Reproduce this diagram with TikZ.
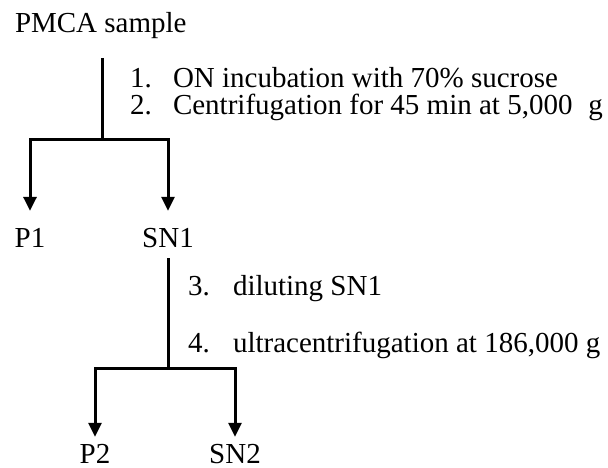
\documentclass[tikz,border=0pt]{standalone}
\usepackage{fontspec}
\setmainfont{Liberation Serif}
\usetikzlibrary{arrows.meta}
\begin{document}
\begin{tikzpicture}[x=1pt,y=-1pt,
  every node/.style={inner sep=0pt,outer sep=0pt,font=\fontsize{29}{34}\selectfont},
  lbl/.style={anchor=base},
  txt/.style={anchor=base west},
  link/.style={line width=3pt},
  arr/.style={line width=3pt,-{Triangle[width=13pt,length=14pt]}}]
\useasboundingbox (0,0) rectangle (608,468);

% samples and fractions
\node[txt] (pmca) at (15,33) {PMCA sample};
\node[lbl] (p1)  at (30,247)  {P1};
\node[lbl] (sn1) at (168,247) {SN1};
\node[lbl] (p2)  at (95,463)  {P2};
\node[lbl] (sn2) at (235,463) {SN2};

% protocol steps
\node[txt] (n1) at (130,88)  {1.};
\node[txt] (t1) at (173,88)  {ON incubation with 70\% sucrose};
\node[txt] (n2) at (130,115) {2.};
\node[txt] (t2) at (173,115) {Centrifugation for 45 min at 5,000\hspace{0.3em} g};
\node[txt] (n3) at (188,295) {3.};
\node[txt] (t3) at (233,295) {diluting SN1};
\node[txt] (n4) at (188,352) {4.};
\node[txt] (t4) at (233,352) {ultracentrifugation at 186,000 g};

% first separation
\coordinate (s1) at (102,58);
\coordinate (j1) at (102,140);
\draw[link] (s1) -- (j1);
\draw[arr] (j1) -| ([yshift=17pt]p1.north);
\draw[arr] (j1) -| ([yshift=17pt]sn1.north);

% second separation
\coordinate (s2) at (168,258);
\coordinate (j2) at (168,368);
\draw[link] (s2) -- (j2);
\draw[arr] (j2) -| ([yshift=7pt]p2.north);
\draw[arr] (j2) -| ([yshift=7pt]sn2.north);
\end{tikzpicture}
\end{document}
